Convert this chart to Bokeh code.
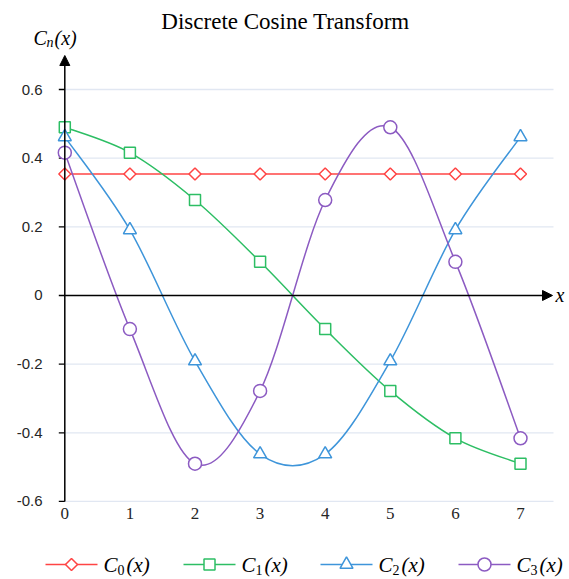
import numpy as np
from bokeh.plotting import figure
from bokeh.models import Range1d, Arrow, NormalHead
from bokeh.core.properties import value
from bokeh.embed import file_html
from bokeh.resources import INLINE

# ---- data ----
x_vals = [0, 1, 2, 3, 4, 5, 6, 7]
c0 = [0.354, 0.354, 0.354, 0.354, 0.354, 0.354, 0.354, 0.354]
c1 = [0.490, 0.416, 0.278, 0.098, -0.098, -0.278, -0.416, -0.490]
c2 = [0.462, 0.191, -0.191, -0.462, -0.462, -0.191, 0.191, 0.462]
c3 = [0.416, -0.098, -0.490, -0.278, 0.278, 0.490, 0.098, -0.416]
series_subscripts = ["0", "1", "2", "3"]
x_ticks = [0, 1, 2, 3, 4, 5, 6, 7]
x_tick_labels = ["0", "1", "2", "3", "4", "5", "6", "7"]
y_ticks = [-0.6, -0.4, -0.2, 0, 0.2, 0.4, 0.6]
y_tick_labels = ["-0.6", "-0.4", "-0.2", "0", "0.2", "0.4", "0.6"]
title_text = "Discrete Cosine Transform"

# ---- styles ----
colors = ["#FF4444", "#2DBE64", "#3E95DA", "#8C5BC2"]
markers = ["square", "square", "triangle", "circle"]
angles = [np.pi / 4, 0, 0, 0]
sizes = [8.5, 11, 13, 13]

W, H = 569, 579
# pixel layout: x=0 at px 64.3, 65.1 px per unit; y=0.6 at px 89, 343.3 px per unit
X0, XU = 64.3, 65.1
Y06, YU = 89.0, 343.3


def dx(px):
    return (px - X0) / XU


def dy(py):
    return 0.6 - (py - Y06) / YU


def smooth(xs, ys):
    """Excel-like smoothed line: cubic Bezier segments through the points."""
    xs = np.asarray(xs, float)
    ys = np.asarray(ys, float)
    n = len(xs)
    px = np.concatenate([[xs[0]], xs, [xs[-1]]])
    py = np.concatenate([[ys[0]], ys, [ys[-1]]])
    out = {k: [] for k in ["x0", "y0", "x1", "y1", "cx0", "cy0", "cx1", "cy1"]}
    for i in range(n - 1):
        j = i + 1
        out["x0"].append(px[j]); out["y0"].append(py[j])
        out["x1"].append(px[j + 1]); out["y1"].append(py[j + 1])
        out["cx0"].append(px[j] + (px[j + 1] - px[j - 1]) / 6)
        out["cy0"].append(py[j] + (py[j + 1] - py[j - 1]) / 6)
        out["cx1"].append(px[j + 1] - (px[j + 2] - px[j]) / 6)
        out["cy1"].append(py[j + 1] - (py[j + 2] - py[j]) / 6)
    return out


p = figure(width=W, height=H,
           x_range=Range1d(dx(0), dx(W)), y_range=Range1d(dy(H), dy(0)),
           output_backend="svg", toolbar_location=None,
           min_border=0)
p.axis.visible = False
p.grid.visible = False
p.outline_line_color = None
p.background_fill_color = "white"
p.border_fill_color = "white"

x_end = dx(553)
y_top = dy(55)

# grid lines
gy = [t for t in y_ticks if t != 0]
p.segment(x0=[0] * len(gy), x1=[x_end] * len(gy), y0=gy, y1=gy,
          line_color="#E1E7F2", line_width=1.3)

# y ticks and labels
tick_len = 6 / XU
p.segment(x0=[-tick_len] * len(y_ticks), x1=[0] * len(y_ticks), y0=y_ticks, y1=y_ticks,
          line_color="black", line_width=1.3)
p.text(x=[dx(42)] * len(y_ticks), y=y_ticks, text=y_tick_labels,
       text_align="right", text_baseline="middle",
       text_font=value("Liberation Sans"), text_font_size="15px", text_color="#262626")

# x tick labels at the bottom
p.text(x=x_ticks, y=[dy(513)] * len(x_ticks), text=x_tick_labels,
       text_align="center", text_baseline="middle",
       text_font=value("Liberation Serif"), text_font_size="17px", text_color="#262626")

# axis arrows
p.add_layout(Arrow(end=NormalHead(size=10, fill_color="black", line_color="black"),
                   x_start=0, y_start=-0.6, x_end=0, y_end=y_top,
                   line_color="black", line_width=1.5))
p.add_layout(Arrow(end=NormalHead(size=10, fill_color="black", line_color="black"),
                   x_start=0, y_start=0, x_end=dx(552), y_end=0,
                   line_color="black", line_width=1.4))

# series
for ys, col, mk, ang, sz in zip([c0, c1, c2, c3], colors, markers, angles, sizes):
    p.bezier(source=smooth(x_vals, ys), x0="x0", y0="y0", x1="x1", y1="y1",
             cx0="cx0", cy0="cy0", cx1="cx1", cy1="cy1",
             line_color=col, line_width=1.5)
    p.scatter(x=x_vals, y=ys, marker=mk, angle=ang, size=sz,
              line_color=col, line_width=1.5, fill_color="white")

# title
p.text(x=[dx(285)], y=[dy(21)], text=[title_text], text_align="center",
       text_baseline="middle", text_font=value("Liberation Serif"),
       text_font_size="23px", text_color="black")

ital = dict(text_baseline="middle", text_font=value("Liberation Serif"),
            text_color="black", text_align="left")

# y axis name C_n(x)
p.text(x=[dx(33)], y=[dy(37)], text=["C"], text_font_style="italic",
       text_font_size="20px", **ital)
p.text(x=[dx(46)], y=[dy(42)], text=["n"], text_font_style="italic",
       text_font_size="14px", **ital)
p.text(x=[dx(54)], y=[dy(37)], text=["(x)"], text_font_style="italic",
       text_font_size="20px", **ital)
# x axis name
p.text(x=[dx(555)], y=[0], text=["x"], text_font_style="italic",
       text_font_size="20px", **ital)

# legend (drawn by hand)
leg_y = dy(564)
line_starts = [45, 183, 320, 458]
for col, mk, ang, sz, sub, ls in zip(colors, markers, angles, sizes,
                                     series_subscripts, line_starts):
    p.segment(x0=[dx(ls)], x1=[dx(ls + 52)], y0=[leg_y], y1=[leg_y],
              line_color=col, line_width=1.5)
    p.scatter(x=[dx(ls + 26)], y=[leg_y], marker=mk, angle=ang, size=sz,
              line_color=col, line_width=1.5, fill_color="white")
    lx = ls + 58
    p.text(x=[dx(lx)], y=[leg_y], text=["C"], text_font_style="italic",
           text_font_size="21px", **ital)
    p.text(x=[dx(lx + 14)], y=[dy(569)], text=[sub], text_font_style="normal",
           text_font_size="14px", **ital)
    p.text(x=[dx(lx + 23)], y=[leg_y], text=["(x)"], text_font_style="italic",
           text_font_size="21px", **ital)

open("out.html", "w").write(file_html(p, INLINE))
